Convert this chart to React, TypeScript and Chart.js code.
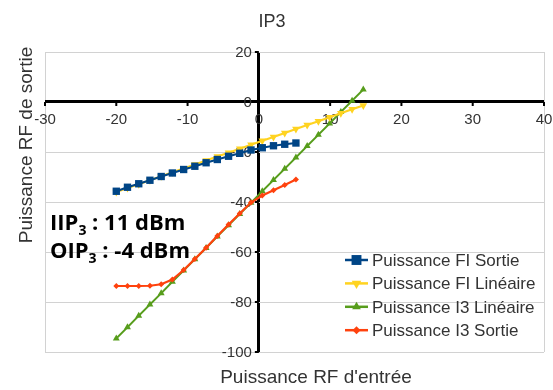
import React, { useEffect, useRef } from 'react';
import { Chart, registerables } from 'chart.js';

Chart.register(...registerables);

const chartTitle = 'IP3';
const xAxisTitle = "Puissance RF d'entrée";
const yAxisTitle = 'Puissance RF de sortie';
const xTickValues = [-30, -20, -10, 0, 10, 20, 30, 40];
const yTickValues = [20, 0, -20, -40, -60, -80, -100];

// input power (dBm)
const inputPower = [-20, -18.43, -16.85, -15.28, -13.7, -12.13, -10.55, -8.98, -7.4, -5.83, -4.25, -2.68, -1.1, 0.48, 2.05, 3.63, 5.2, 6.78, 8.35, 9.93, 11.5, 13.08, 14.65];
const fiSortie = [-35.7, -34.1, -32.7, -31.3, -29.8, -28.4, -27.0, -25.7, -24.3, -23.0, -21.7, -20.5, -19.2, -18.3, -17.5, -16.9, -16.4];
const fiLineaire = [-36.0, -34.4, -32.9, -31.3, -29.7, -28.1, -26.6, -25.0, -23.4, -21.8, -20.3, -18.7, -17.1, -15.5, -14.0, -12.4, -10.8, -9.2, -7.7, -6.1, -4.5, -2.9, -1.4];
const i3Lineaire = [-94.6, -90.1, -85.5, -81.0, -76.5, -71.9, -67.4, -62.9, -58.4, -53.8, -49.3, -44.8, -40.3, -35.7, -31.2, -26.7, -22.2, -17.6, -13.1, -8.6, -4.0, 0.5, 5.0];
const i3Sortie = [-73.6, -73.6, -73.6, -73.5, -72.9, -71.0, -67.2, -62.8, -58.3, -53.6, -49.0, -44.6, -40.2, -37.4, -35.3, -33.2, -31.0];
const seriesNames = ['Puissance FI Sortie', 'Puissance FI Linéaire', 'Puissance I3 Linéaire', 'Puissance I3 Sortie'];
const annotationLines = [
  ['IIP', '3', ' : 11 dBm'],
  ['OIP', '3', ' : -4 dBm'],
];

const toPoints = (xs: number[], ys: number[]) => ys.map((y, i) => ({ x: xs[i], y }));

const COLORS = ['#004586', '#ffd320', '#579d1c', '#ff420e'];
const MARKERS = ['rect', 'triDown', 'triUp', 'diamond'];
const GRID = '#d2d2d2';
const TEXT = '#333333';
const SANS = '"Liberation Sans", Arial, sans-serif';

function drawMarker(ctx: CanvasRenderingContext2D, kind: string, cx: number, cy: number, r: number, color: string) {
  ctx.fillStyle = color;
  ctx.beginPath();
  if (kind === 'rect') {
    const s = r * Math.SQRT1_2;
    ctx.rect(cx - s, cy - s, 2 * s, 2 * s);
  } else if (kind === 'triUp') {
    ctx.moveTo(cx, cy - r);
    ctx.lineTo(cx + r * 0.866, cy + r / 2);
    ctx.lineTo(cx - r * 0.866, cy + r / 2);
    ctx.closePath();
  } else if (kind === 'triDown') {
    ctx.moveTo(cx, cy + r);
    ctx.lineTo(cx + r * 0.866, cy - r / 2);
    ctx.lineTo(cx - r * 0.866, cy - r / 2);
    ctx.closePath();
  } else {
    ctx.moveTo(cx, cy - r);
    ctx.lineTo(cx + r, cy);
    ctx.lineTo(cx, cy + r);
    ctx.lineTo(cx - r, cy);
    ctx.closePath();
  }
  ctx.fill();
}

const decorPlugin = {
  id: 'decor',
  beforeDatasetsDraw(chart: any) {
    const { ctx } = chart;
    const xs = chart.scales.x;
    const ys = chart.scales.y;
    const x0 = xs.getPixelForValue(0);
    const y0 = ys.getPixelForValue(0);
    ctx.save();
    ctx.strokeStyle = '#000';
    ctx.lineWidth = 2;
    ctx.beginPath();
    xTickValues.forEach((v) => {
      const px = xs.getPixelForValue(v);
      ctx.moveTo(px, y0);
      ctx.lineTo(px, y0 + 4);
    });
    yTickValues.forEach((v) => {
      const py = ys.getPixelForValue(v);
      ctx.moveTo(x0 - 4, py);
      ctx.lineTo(x0, py);
    });
    ctx.stroke();

    ctx.fillStyle = TEXT;
    ctx.font = `15px ${SANS}`;
    ctx.textBaseline = 'alphabetic';
    ctx.textAlign = 'center';
    xTickValues.forEach((v) => {
      ctx.fillText(String(v), xs.getPixelForValue(v), y0 + 22);
    });
    ctx.textAlign = 'right';
    yTickValues.forEach((v) => {
      ctx.fillText(String(v), x0 - 7, ys.getPixelForValue(v) + 5.4);
    });
    ctx.restore();
  },
  afterDraw(chart: any) {
    const { ctx } = chart;
    ctx.save();
    // titles
    ctx.fillStyle = TEXT;
    ctx.textBaseline = 'alphabetic';
    ctx.textAlign = 'center';
    ctx.font = `18px ${SANS}`;
    ctx.fillText(chartTitle, 272, 26.5);
    ctx.font = `19px ${SANS}`;
    ctx.fillText(xAxisTitle, 316, 383);
    ctx.save();
    ctx.translate(31.5, 145);
    ctx.rotate(-Math.PI / 2);
    ctx.fillText(yAxisTitle, 0, 0);
    ctx.restore();

    // legend
    const legendRadii = [7, 5.5, 5, 4];
    ctx.textAlign = 'left';
    ctx.font = `17px ${SANS}`;
    seriesNames.forEach((name, i) => {
      const cy = 260 + i * 23.4;
      ctx.strokeStyle = COLORS[i];
      ctx.lineWidth = 2.5;
      ctx.beginPath();
      ctx.moveTo(345, cy);
      ctx.lineTo(368, cy);
      ctx.stroke();
      drawMarker(ctx, MARKERS[i], 356.5, cy, legendRadii[i], COLORS[i]);
      ctx.fillStyle = TEXT;
      ctx.fillText(name, 372, cy + 6);
    });

    // annotation
    ctx.fillStyle = '#000';
    annotationLines.forEach((parts, i) => {
      const base = i === 0 ? 230 : 257.5;
      let cx = 50;
      ctx.font = 'bold 22px "Open Sans", sans-serif';
      ctx.fillText(parts[0], cx, base);
      cx += ctx.measureText(parts[0]).width;
      ctx.font = 'bold 14px "Open Sans", sans-serif';
      ctx.fillText(parts[1], cx, base + 5);
      cx += ctx.measureText(parts[1]).width;
      ctx.font = 'bold 22px "Open Sans", sans-serif';
      ctx.fillText(parts[2], cx, base);
    });
    ctx.restore();
  },
};

export default function App() {
  const canvasRef = useRef<HTMLCanvasElement | null>(null);

  useEffect(() => {
    if (!canvasRef.current) return;
    const chart = new Chart(canvasRef.current, {
      type: 'scatter',
      data: {
        datasets: [
          {
            label: seriesNames[0],
            data: toPoints(inputPower, fiSortie),
            showLine: true,
            borderColor: COLORS[0],
            backgroundColor: COLORS[0],
            borderWidth: 2.2,
            pointStyle: 'rect',
            pointRadius: 5.2,
            pointBorderWidth: 0,
            order: 0,
          },
          {
            label: seriesNames[1],
            data: toPoints(inputPower, fiLineaire),
            showLine: true,
            borderColor: COLORS[1],
            backgroundColor: COLORS[1],
            borderWidth: 2.2,
            pointStyle: 'triangle',
            pointRotation: 180,
            pointRadius: 4.4,
            pointBorderWidth: 0,
            order: 1,
          },
          {
            label: seriesNames[2],
            data: toPoints(inputPower, i3Lineaire),
            showLine: true,
            borderColor: COLORS[2],
            backgroundColor: COLORS[2],
            borderWidth: 1.8,
            pointStyle: 'triangle',
            pointRadius: 4,
            pointBorderWidth: 0,
            order: 3,
          },
          {
            label: seriesNames[3],
            data: toPoints(inputPower, i3Sortie),
            showLine: true,
            borderColor: COLORS[3],
            backgroundColor: COLORS[3],
            borderWidth: 2.2,
            pointStyle: 'rectRot',
            pointRadius: 3,
            pointBorderWidth: 0,
            order: 2,
          },
        ],
      },
      options: {
        animation: false,
        responsive: false,
        events: [],
        layout: { padding: { left: 45, top: 52, right: 9, bottom: 38 } },
        plugins: {
          legend: { display: false },
          title: { display: false },
          tooltip: { enabled: false },
        },
        scales: {
          x: {
            type: 'linear',
            min: -30,
            max: 40,
            ticks: { display: false, stepSize: 10 },
            border: { display: false },
            grid: {
              drawTicks: false,
              color: (c: any) => (c.tick.value === 0 ? '#000' : c.tick.value === -30 || c.tick.value === 40 ? GRID : 'rgba(0,0,0,0)'),
              lineWidth: (c: any) => (c.tick.value === 0 ? 3 : 1),
            },
          },
          y: {
            type: 'linear',
            min: -100,
            max: 20,
            ticks: { display: false, stepSize: 20 },
            border: { display: false },
            grid: {
              drawTicks: false,
              color: (c: any) => (c.tick.value === 0 ? '#000' : GRID),
              lineWidth: (c: any) => (c.tick.value === 0 ? 3 : 1),
            },
          },
        },
      },
      plugins: [decorPlugin],
    } as any);
    return () => chart.destroy();
  }, []);

  return (
    <div style={{ position: 'absolute', left: 0, top: 0, width: 553, height: 390, background: '#fff' }}>
      <canvas ref={canvasRef} width={553} height={390} style={{ display: 'block' }} />
    </div>
  );
}
